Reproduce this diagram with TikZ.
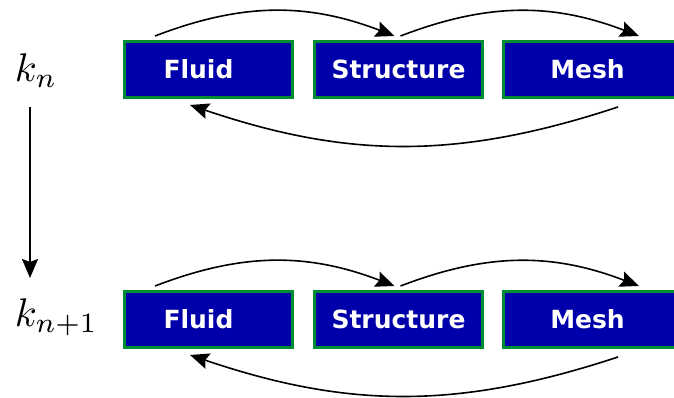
\documentclass[tikz,border=0pt]{standalone}
\usepackage{amsmath}
\usepackage{fontspec}
\newfontfamily\caixafont{DejaVu Sans}
\usepackage{tikz}
\usetikzlibrary{arrows.meta,positioning}
\definecolor{blaufosc}{RGB}{0,0,170}
\definecolor{verdvora}{RGB}{0,140,50}

\begin{document}
\begin{tikzpicture}[
    >={Stealth[length=19pt, width=16pt, inset=3pt]},
    x=1pt, y=1pt,
    caixa/.style={
        draw=verdvora,
        line width=3pt,
        fill=blaufosc,
        text=white,
        font=\caixafont\bfseries\fontsize{25}{30}\selectfont,
        minimum width=168pt,
        minimum height=56pt,
        inner sep=0pt
    },
    fletxa/.style={->, line width=1.6pt},
    etiqueta/.style={
        scale=4,
        anchor=base west,
        inner sep=0pt
    }
]

\useasboundingbox (0,0) rectangle (674,398);

% Iteració k_n
\node[etiqueta] (kn) at (14,316) {$k_n$};
\node[caixa] (fluidA) at (208.5,328.5) {Fluid\hspace*{20pt}};
\node[caixa, right=19pt of fluidA] (structA) {Structure};
\node[caixa, right=18pt of structA, minimum width=176pt] (meshA) {Mesh\hspace*{8pt}};

% Fletxes de dalt
\draw[fletxa] ([shift={(-53.5,4)}]fluidA.north)
    to[bend left=21] ([shift={(-4,4)}]structA.north);
\draw[fletxa] ([shift={(2,4)}]structA.north)
    to[bend left=21] ([shift={(47.5,4)}]meshA.north);

% Retorn
\draw[fletxa] ([shift={(26.5,-8)}]meshA.south)
    to[bend left=18.5] ([shift={(-18.5,-6)}]fluidA.south);

% Iteració k_{n+1}
\node[etiqueta] (knp) at (14,71) {$k_{n+1}$};
\node[caixa] (fluidB) at (208.5,78.5) {Fluid\hspace*{20pt}};
\node[caixa, right=19pt of fluidB] (structB) {Structure};
\node[caixa, right=18pt of structB, minimum width=176pt] (meshB) {Mesh\hspace*{8pt}};

% Fletxes de dalt
\draw[fletxa] ([shift={(-53.5,4)}]fluidB.north)
    to[bend left=21] ([shift={(-4,4)}]structB.north);
\draw[fletxa] ([shift={(2,4)}]structB.north)
    to[bend left=21] ([shift={(47.5,4)}]meshB.north);

% Retorn
\draw[fletxa] ([shift={(26.5,-8)}]meshB.south)
    to[bend left=18.5] ([shift={(-18.5,-6)}]fluidB.south);

% Pas al següent
\coordinate (inici) at (30,291);
\coordinate (final) at (30,120);
\draw[fletxa] (inici) -- (final);

\end{tikzpicture}
\end{document}
